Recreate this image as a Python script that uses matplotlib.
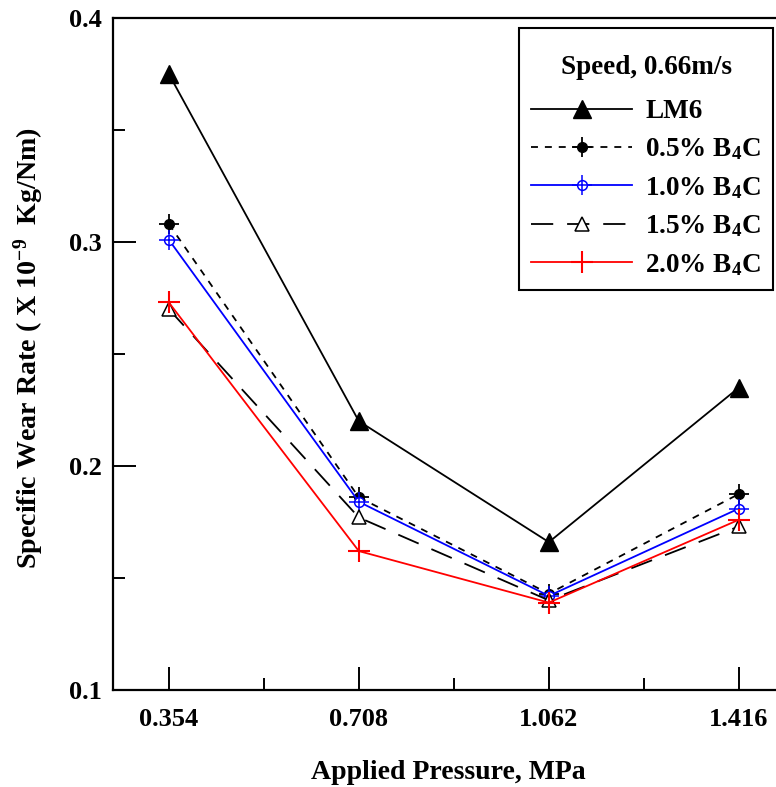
"""
Specific wear rate vs applied pressure, LM6 / B4C composites
"""

import numpy as np
import matplotlib
matplotlib.use("Agg")
import matplotlib.pyplot as plt
from matplotlib.ticker import MultipleLocator, AutoMinorLocator, FormatStrFormatter
from matplotlib.legend_handler import HandlerTuple

plt.rcParams['font.family'] = ['Liberation Serif', 'DejaVu Serif']
plt.rcParams['font.weight'] = 'bold'
plt.rcParams['mathtext.fontset'] = 'custom'
plt.rcParams['mathtext.rm'] = 'Liberation Serif:bold'
plt.rcParams['mathtext.it'] = 'Liberation Serif:bold'
plt.rcParams['mathtext.bf'] = 'Liberation Serif:bold'
plt.rcParams['lines.scale_dashes'] = False

# data
pressure = [0.354, 0.708, 1.062, 1.416]
pressure_labels = ['0.354', '0.708', '1.062', '1.416']
lm6 = [0.375, 0.220, 0.166, 0.235]
b4c_05 = [0.308, 0.186, 0.143, 0.1875]
b4c_10 = [0.301, 0.184, 0.142, 0.181]
b4c_15 = [0.270, 0.177, 0.140, 0.173]
b4c_20 = [0.273, 0.162, 0.139, 0.176]

fig = plt.figure(figsize=(7.76, 7.87), dpi=100)
ax = fig.add_axes([0.1456, 0.1233, 0.8647, 0.8539])

lw = 1.3
h_lm6, = ax.plot(pressure, lm6, color='black', lw=lw, marker='^', ms=12.5,
                 label='LM6')

# filled dot + cross for 0.5 %
h05a, = ax.plot(pressure, b4c_05, color='black', lw=lw, dashes=(5, 5),
                marker='o', ms=7)
h05b, = ax.plot(pressure, b4c_05, ls='none', color='black', marker='+',
                ms=15, mew=1.3)

# open circle + cross for 1.0 %
h10a, = ax.plot(pressure, b4c_10, color='blue', lw=lw, marker='o', ms=7,
                mfc='white', mec='blue', mew=1.1)
h10b, = ax.plot(pressure, b4c_10, ls='none', color='blue', marker='+',
                ms=15, mew=1.1)

h15, = ax.plot(pressure, b4c_15, color='black', lw=lw, dashes=(16, 10),
               marker='^', ms=10, mfc='white', mec='black', mew=1.1)

h20, = ax.plot(pressure, b4c_20, color='red', lw=lw, marker='+', ms=16,
               mew=1.5)

ax.set_xlim(0.25, 1.5)
ax.set_ylim(0.1, 0.4)
ax.set_xticks(pressure)
ax.set_xticklabels(pressure_labels)
ax.xaxis.set_minor_locator(AutoMinorLocator(2))
ax.yaxis.set_major_locator(MultipleLocator(0.1))
ax.yaxis.set_minor_locator(AutoMinorLocator(2))
ax.yaxis.set_major_formatter(FormatStrFormatter('%.1f'))

ax.tick_params(which='both', direction='in', width=1.4, labelsize=19,
               top=False, right=False)
ax.tick_params(which='major', length=16.5)
ax.tick_params(which='minor', length=8.5)
ax.tick_params(axis='y', pad=8)
ax.tick_params(axis='x', pad=13)
for s in ax.spines.values():
    s.set_linewidth(1.6)

ax.set_xlabel('Applied Pressure, MPa', fontsize=20, fontweight='bold')
ax.xaxis.set_label_coords(0.5, -0.104)
ax.set_ylabel('Specific Wear Rate ( X 10$^{-9}$  Kg/Nm)', fontsize=20.2,
              fontweight='bold')
ax.yaxis.set_label_coords(-0.100, 0.509)

leg = ax.legend([h_lm6, (h05a, h05b), (h10a, h10b), h15, h20],
                ['LM6', '0.5% B$_4$C', '1.0% B$_4$C', '1.5% B$_4$C', '2.0% B$_4$C'],
                handler_map={tuple: HandlerTuple(ndivide=1)},
                title='\nSpeed, 0.66m/s', loc='upper right',
                bbox_to_anchor=(0.984, 0.985), borderaxespad=0,
                fancybox=False, edgecolor='black', framealpha=1,
                fontsize=19.5, title_fontsize=19.5, handlelength=3.7,
                labelspacing=0.46, borderpad=0.45, handletextpad=0.5)
leg.get_frame().set_linewidth(1.5)
leg.get_title().set_fontweight('bold')
leg.get_title().set_linespacing(0.45)
for t in leg.get_texts():
    t.set_fontweight('bold')
# gap under the legend title
leg._legend_box.sep = 14

fig.savefig('out.png', dpi=100)
